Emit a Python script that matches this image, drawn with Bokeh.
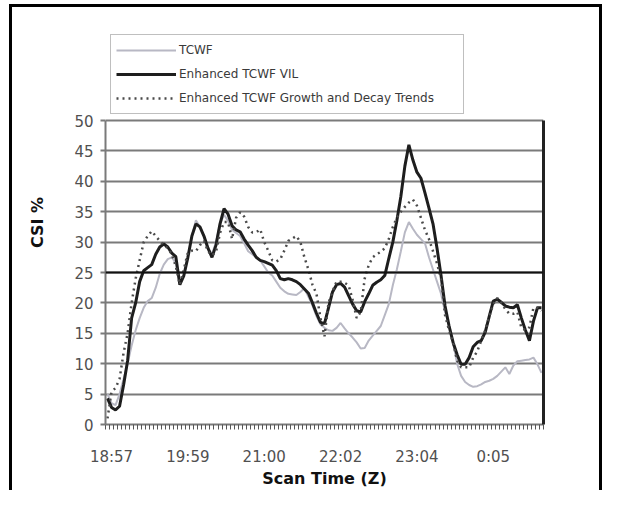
from bokeh.plotting import figure
from bokeh.models import FixedTicker, Legend, LegendItem, Span, LinearAxis, Range1d
from bokeh.embed import file_html
from bokeh.resources import INLINE

# ---- data -------------------------------------------------------------
scan_labels = ["18:57", "19:59", "21:00", "22:02", "23:04", "0:05"]
label_index = [1, 20, 39, 58, 77, 96]
y_ticks = [0, 5, 10, 15, 20, 25, 30, 35, 40, 45, 50]
threshold = 25

tcwf = [5, 3.5, 3.2, 5, 7.5, 10, 13, 15.5, 17.5, 19.2, 20.3, 20.8, 22.5, 24.8, 26.3, 27.2, 27.5, 26.5,
        23.5, 24.5, 27.5, 31, 33.6, 32.5, 31, 29, 28, 30, 33, 34.5, 33.5, 32, 31.5, 31, 29.8, 28.5,
        28, 27.5, 27, 26, 25, 24.5, 23.5, 22.5, 21.9, 21.5, 21.4, 21.3, 21.8, 22.4, 21, 19.6, 17.8,
        16.5, 15.9, 15.5, 15.4, 15.9, 16.7, 15.8, 15, 14.3, 13.5, 12.5, 12.6, 13.8, 14.6, 15.4, 16.2,
        18, 19.8, 22.9, 25.5, 28.5, 31.6, 33.3, 32.2, 31.2, 30.5, 29.8, 27.5, 25.5, 23.5, 21.5, 18.5,
        16.4, 13.5, 10, 8, 7, 6.5, 6.2, 6.3, 6.6, 7, 7.2, 7.5, 8, 8.7, 9.4, 8.3, 9.7, 10.4, 10.5,
        10.6, 10.7, 11, 9.9, 8.5]

vil = [4.3, 2.8, 2.4, 3.0, 6.5, 10.5, 17.5, 20, 23.5, 25.3, 25.8, 26.3, 28, 29.2, 29.7, 29.2, 28.2,
       27.6, 23, 24.5, 27.5, 31, 33, 32.5, 31, 29, 27.5, 29.5, 33, 35.5, 34.6, 32.7, 32, 31.7, 30.5,
       29.5, 28.6, 27.5, 27, 26.8, 26.5, 26.2, 25.3, 24, 23.8, 24, 23.8, 23.5, 23, 22.3, 21.6, 20,
       18.3, 16.8, 16.6, 19.2, 21.8, 23, 23.2, 22.6, 21.2, 19.8, 18.7, 18.5, 20.2, 21.5, 22.9, 23.4,
       23.8, 24.5, 27.3, 30, 33.5, 37.5, 42.5, 46, 43.5, 41.5, 40.5, 38.1, 35.6, 33, 29, 24.5, 19.5,
       16.2, 13.5, 11.5, 9.9, 9.9, 11, 12.8, 13.5, 13.8, 15.2, 17.8, 20.3, 20.6, 20.1, 19.5, 19.3,
       19.2, 19.7, 17.5, 15.5, 13.8, 17, 19.2, 19.2]

trends = [1, 5.4, 6, 7.5, 11.8, 15, 20, 24, 27, 30, 31, 31.8, 31, 30.2, 29.5, 29, 28, 26, 23, 25.5,
          28.3, 28.6, 28.5, 29.5, 30.2, 28.5, 27.8, 28.4, 31.5, 33.3, 33.3, 30.5, 34, 34.9, 34.2,
          32.5, 31.6, 31.6, 32.1, 30, 28.6, 27, 26.8, 27.2, 28.6, 30.2, 30.6, 31, 30, 27.5, 25.5,
          23, 21.5, 17.5, 14.5, 20, 21.9, 23.5, 23.5, 23.3, 22.9, 20.5, 17.5, 18.5, 24, 26.2, 27.5,
          28, 28.4, 29, 30.5, 32.5, 34, 35, 35.8, 36.5, 37, 36, 34, 32, 30.5, 28.5, 26.5, 24, 18,
          15.5, 13.5, 10.5, 9.4, 9.4, 9.4, 11, 12, 13.8, 15.5, 17.8, 19.8, 20.8, 20, 19, 18.2, 18.2,
          18.5, 15.9, 15.5, 16, 19.2, 19.2, 18.7]

n = len(vil)
x = list(range(n))

FONT = "DejaVu Sans"
Y_AXIS_MAX = 50          # top of the value axis
Y_VIEW_TOP = 66.45       # frame extends above the axis to hold the legend

p = figure(width=602, height=490, output_backend="svg", toolbar_location=None,
           x_range=Range1d(-0.5, n - 0.5), y_range=Range1d(0, Y_VIEW_TOP),
           min_border_left=105, min_border_right=59, min_border_top=20, min_border_bottom=62,
           background_fill_color="white", border_fill_color=None)
# outer frame (top, left, right) drawn with CSS shadows, no effect on layout
p.styles = {"box-shadow": ("inset 9px 0 0 0 #ffffff, inset 0 4px 0 0 #ffffff, "
                           "inset 12px 0 0 0 #000000, inset 0 7px 0 0 #000000, "
                           "inset -3px 0 0 0 #000000"),
            "background-color": "#ffffff"}
p.outline_line_color = None

# grid
p.xgrid.visible = False
p.ygrid.ticker = FixedTicker(ticks=y_ticks)
p.ygrid.grid_line_color = "#7a7a7a"
p.ygrid.grid_line_width = 2
p.add_layout(Span(location=threshold, dimension="width", line_color="#111111", line_width=2))

# x axis
xa = p.xaxis[0]
xa.ticker = FixedTicker(ticks=label_index, minor_ticks=[i - 0.5 for i in range(n + 1)])
xa.major_label_overrides = {i: s for i, s in zip(label_index, scan_labels)}
xa.major_tick_line_color = None
xa.major_tick_out = 5
xa.major_tick_in = 0
xa.minor_tick_out = 5
xa.minor_tick_in = 0
xa.minor_tick_line_color = "#555555"
xa.minor_tick_line_width = 1
xa.axis_line_color = "#7a7a7a"
xa.axis_line_width = 2
xa.major_label_standoff = 18
xa.major_label_text_font = FONT
xa.major_label_text_font_size = "15px"
xa.major_label_text_line_height = 1.0
xa.major_label_text_color = "#505050"
xa.axis_label = "Scan Time (Z)"
xa.axis_label_text_font = FONT
xa.axis_label_text_font_style = "bold"
xa.axis_label_text_font_size = "16px"
xa.axis_label_text_line_height = 1.0
xa.axis_label_text_color = "#111111"
xa.axis_label_standoff = 0

# y axis
ya = p.yaxis[0]
ya.bounds = (0, Y_AXIS_MAX)
ya.ticker = FixedTicker(ticks=y_ticks)
ya.minor_tick_line_color = None
ya.major_tick_out = 5
ya.major_tick_in = 0
ya.major_tick_line_color = "#7a7a7a"
ya.major_tick_line_width = 2
ya.axis_line_color = "#7a7a7a"
ya.axis_line_width = 2
ya.major_label_standoff = 7
ya.major_label_text_font = FONT
ya.major_label_text_font_size = "15px"
ya.major_label_text_color = "#505050"
ya.axis_label = "CSI %"
ya.axis_label_text_font = FONT
ya.axis_label_text_font_style = "bold"
ya.axis_label_text_font_size = "16px"
ya.axis_label_text_color = "#111111"
ya.axis_label_standoff = 24

# right frame edge
ra = LinearAxis(ticker=FixedTicker(ticks=[]), bounds=(0, Y_AXIS_MAX), major_tick_line_color=None,
                minor_tick_line_color=None, axis_line_color="#222222", axis_line_width=3)
p.add_layout(ra, "right")

r1 = p.line(x, tcwf, line_color="#b8b8c4", line_width=2)
r2 = p.line(x, vil, line_color="#1e1e1e", line_width=3)
r3 = p.line(x, trends, line_color="#4a4a4a", line_width=2.5, line_dash="2 4")

legend = Legend(items=[LegendItem(label="TCWF", renderers=[r1]),
                       LegendItem(label="Enhanced TCWF VIL", renderers=[r2]),
                       LegendItem(label="Enhanced TCWF Growth and Decay Trends", renderers=[r3])],
                location=(5, 310), orientation="vertical",
                padding=5, spacing=4, glyph_height=20, label_height=20, glyph_width=60,
                label_standoff=3, label_width=279, margin=0,
                border_line_color="#808080", border_line_width=1.5,
                background_fill_color="white", background_fill_alpha=1,
                label_text_font=FONT, label_text_font_size="12px", label_text_color="#3a3a3a")
p.add_layout(legend)

open("out.html", "w").write(file_html(p, INLINE))
